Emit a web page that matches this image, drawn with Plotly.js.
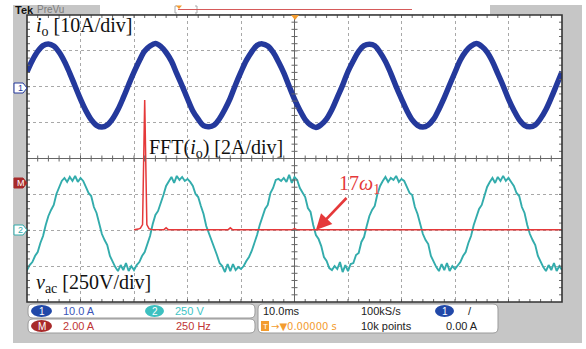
<!DOCTYPE html>
<html><head><meta charset="utf-8">
<script src="https://cdn.plot.ly/plotly-3.0.1.min.js"></script>
<style>html,body{margin:0;padding:0;background:#fff;}#chart{width:586px;height:349px;}</style>
</head><body><div id="chart"></div>
<script>
// ---------------- data ----------------
// channel 1: output current i_o [A], sampled every 1 ms starting at 0 ms
const ioStartMs = 0, ioStepMs = 1;
const ioAmps = [
 3.8, 7.0, 9.5, 11.1, 11.6, 11.0, 9.3, 6.7, 3.4, -0.2, -3.8, -7.0, -9.5, -11.1, -11.6, -11.0, -9.3, -6.7, -3.4, 0.2,
 3.7, 6.9, 9.6, 11.0, 11.7, 10.9, 9.2, 6.8, 3.3, -0.1, -3.7, -7.1, -9.4, -11.2, -11.5, -11.0, -9.2, -6.6, -3.5, 0.3,
 3.8, 7.0, 9.4, 11.2, 11.6, 11.0, 9.3, 6.6, 3.5, -0.2, -3.8, -6.9, -9.5, -11.0, -11.7, -10.9, -9.3, -6.7, -3.3, 0.1,
 3.9, 6.9, 9.5, 11.1, 11.5, 11.1, 9.2, 6.7, 3.4, -0.3, -3.7, -7.0, -9.6, -11.1, -11.6, -11.0, -9.4, -6.6, -3.4, 0.2,
 3.7, 7.1, 9.5, 11.0, 11.7, 10.9, 9.3, 6.7, 3.3, -0.1, -3.8, -6.9, -9.5, -11.1, -11.5, -11.0, -9.2, -6.7, -3.4, 0.2,
 3.8
];
// channel 2: converter voltage v_ac [V], sampled every 0.5 ms starting at -0.5 ms
const vacStartMs = -0.5, vacStepMs = 0.5;
const vacVolts = [
 -286, -314, -279, -258, -216, -188, -125, -77,
 0, 63, 105, 140, 216, 265, 307, 328, 300, 335, 307, 342, 300, 328, 307, 265, 223, 202, 125, 84,
 0, -63, -105, -140, -216, -258, -293, -321, -279, -314, -265, -321, -286, -314, -279, -258, -216, -188, -125, -77,
 7, 70, 98, 147, 209, 272, 300, 335, 293, 342, 314, 335, 307, 321, 300, 272, 216, 195, 132, 77,
 -7, -56, -112, -147, -209, -265, -286, -328, -272, -321, -272, -314, -293, -307, -286, -251, -223, -181, -132, -70,
 0, 56, 112, 140, 223, 258, 314, 321, 307, 328, 300, 349, 293, 335, 314, 258, 230, 195, 118, 91,
 0, -70, -98, -147, -223, -251, -300, -314, -286, -307, -258, -328, -279, -321, -272, -265, -209, -195, -118, -84,
 -7, 63, 105, 133, 216, 272, 307, 335, 300, 328, 314, 342, 300, 321, 307, 265, 223, 209, 125, 77,
 7, -63, -105, -133, -216, -258, -293, -321, -272, -314, -265, -321, -286, -307, -279, -258, -216, -188, -125, -77,
 0, 63, 112, 140, 209, 265, 300, 328, 293, 335, 307, 342, 307, 328, 300, 272, 223, 202, 125, 84,
 0, -63, -105, -140, -216, -258, -293, -321, -279, -314, -265, -321, -286, -314
];
// math channel: FFT(i_o) [A] against frequency [Hz]
const fftHz   = [0, 10, 20, 30, 40, 50, 60, 70, 80, 140, 150, 160, 440, 450, 460, 740, 750, 760, 840, 850, 860, 2000];
const fftAmps = [0.02, 0.03, 0.05, 0.1, 0.3, 7.25, 0.3, 0.08, 0.03, 0.02, 0.12, 0.02, 0.02, 0.12, 0.02, 0.02, 0.08, 0.02, 0.02, 0.06, 0.02, 0.02];

const labelIo  = '<i>i</i><sub>o</sub> [10A/div]';
const labelFft = 'FFT(<i>i</i><sub>o</sub>) [2A/div]';
const labelVac = '<i>v</i><sub>ac</sub> [250V/div]';
const labelHarm = '17<i>ω</i><sub>1</sub>';
const readout = {ch1:'10.0 A', ch2:'250 V', math:'2.00 A', mathHz:'250 Hz', time:'10.0ms', trig:'0.00000 s',
                 rate:'100kS/s', points:'10k points', trigLevel:'0.00 A'};

// ---------------- build ----------------
const ioT = ioAmps.map((_, i) => ioStartMs + i * ioStepMs);
const vacT = vacVolts.map((_, i) => vacStartMs + i * vacStepMs);

// pixel -> paper helpers (plot area 27..562 x 15..302)
const PL = 27, PR = 562, PT = 15, PB = 302;
const X = p => (p - PL) / (PR - PL);
const Y = p => (PB - p) / (PB - PT);

const serif = 'Liberation Serif, Times New Roman, serif';
const sans = 'Liberation Sans, Arial, sans-serif';
const BLUE = '#24399c', TEAL = '#33acac', RED = '#e5393a', GRAY = '#c6c6c6', ORANGE = '#f39c2f';

// tick marks on border and crosshair
const cx = (PL + PR) / 2, cy = (PT + PB) / 2;
const ddx = (PR - PL) / 50, ddy = (PB - PT) / 40;
let d = '';
const seg = (x0, y0, x1, y1) => { d += `M${X(x0)},${Y(y0)}L${X(x1)},${Y(y1)}`; };
for (let i = 1; i < 50; i++) {
  const x = PL + i * ddx;
  seg(x, PT, x, PT + 3); seg(x, PB, x, PB - 3); seg(x, cy - 3, x, cy + 3);
}
for (let j = 1; j < 40; j++) {
  const y = PT + j * ddy;
  seg(PL, y, PL + 3, y); seg(PR, y, PR - 3, y); seg(cx - 3, y, cx + 3, y);
}

function rrect(x0, y0, x1, y1, r) {
  const rx = r / (PR - PL), ry = r / (PB - PT);
  const a = X(x0), b = X(x1), t = Y(y0), u = Y(y1);
  return `M${a + rx},${t}L${b - rx},${t}Q${b},${t} ${b},${t - ry}L${b},${u + ry}Q${b},${u} ${b - rx},${u}` +
         `L${a + rx},${u}Q${a},${u} ${a},${u + ry}L${a},${t - ry}Q${a},${t} ${a + rx},${t}Z`;
}
function marker(y, fill, line) {
  return {type:'path', xref:'paper', yref:'paper', layer:'above',
    path:`M${X(14)},${Y(y-5)}L${X(23)},${Y(y-5)}L${X(27)},${Y(y)}L${X(23)},${Y(y+5)}L${X(14)},${Y(y+5)}Z`,
    fillcolor: fill, line:{color: line, width:1}};
}
function pill(x0, x1, y, fill) {
  return {type:'circle', xref:'paper', yref:'paper', x0:X(x0), x1:X(x1), y0:Y(y-6), y1:Y(y+6),
          fillcolor: fill, line:{width:0}, layer:'above'};
}

const shapes = [
  {type:'rect', xref:'paper', yref:'paper', x0:X(13), x1:X(582), y0:Y(343), y1:Y(5), fillcolor:GRAY, line:{width:0}, layer:'below'},
  {type:'rect', xref:'paper', yref:'paper', x0:X(PL), x1:X(PR), y0:Y(PB), y1:Y(PT), fillcolor:'#fff', line:{width:0}, layer:'below'},
  {type:'rect', xref:'paper', yref:'paper', x0:X(100), x1:X(490), y0:Y(14), y1:Y(5), fillcolor:'#fff', line:{width:0}, layer:'below'},
  {type:'path', xref:'paper', yref:'paper', path:`M${X(177)},${Y(6)}L${X(175)},${Y(6)}L${X(175)},${Y(13)}L${X(177)},${Y(13)}M${X(195)},${Y(6)}L${X(197)},${Y(6)}L${X(197)},${Y(13)}L${X(195)},${Y(13)}`, line:{color:'#aaa', width:1}},
  {type:'line', xref:'paper', yref:'paper', x0:X(178), x1:X(412), y0:Y(9.5), y1:Y(9.5), line:{color:'#d65a5a', width:1}},
  {type:'path', xref:'paper', yref:'paper', path:`M${X(176)},${Y(5.5)}L${X(182)},${Y(5.5)}L${X(179)},${Y(9)}Z`, fillcolor:ORANGE, line:{width:0}},
  {type:'path', xref:'paper', yref:'paper', path:d, line:{color:'#666', width:1}, layer:'above'},
  {type:'rect', xref:'paper', yref:'paper', x0:0, x1:1, y0:0, y1:1, line:{color:'#333', width:1.6}, layer:'above'},
  {type:'path', xref:'paper', yref:'paper', path:`M${X(291)},${Y(15)}L${X(299)},${Y(15)}L${X(295)},${Y(20)}Z`, fillcolor:ORANGE, line:{width:0}, layer:'above'},
  marker(88, '#fff', BLUE), marker(183, '#a82a2a', '#a82a2a'), marker(230, '#fff', TEAL),
  {type:'path', xref:'paper', yref:'paper', path:rrect(28, 304, 255, 318, 5), fillcolor:'#fff', line:{color:'#9a9a9a', width:1}},
  {type:'path', xref:'paper', yref:'paper', path:rrect(28, 319, 255, 333, 5), fillcolor:'#fff', line:{color:'#9a9a9a', width:1}},
  {type:'path', xref:'paper', yref:'paper', path:rrect(258, 304, 498, 333, 5), fillcolor:'#fff', line:{color:'#9a9a9a', width:1}},
  pill(31, 52, 311, '#2148a8'), pill(145, 164, 311, '#3cc0c0'), pill(31, 52, 326, '#a82a2a'), pill(435, 454, 311, '#2148a8'),
  {type:'rect', xref:'paper', yref:'paper', x0:X(261), x1:X(269), y0:Y(331), y1:Y(321), fillcolor:ORANGE, line:{width:0}, layer:'above'}
];

function txt(x, y, text, color, size, extra) {
  return Object.assign({xref:'paper', yref:'paper', x:X(x), y:Y(y), text:text, showarrow:false,
    xanchor:'left', yanchor:'middle', font:{family:sans, size:size, color:color}}, extra || {});
}
const annotations = [
  txt(34, 26, labelIo, '#111', 20, {font:{family:serif, size:20, color:'#111'}}),
  txt(147, 148, labelFft, '#111', 20, {font:{family:serif, size:20, color:'#111'}}),
  txt(34, 283, labelVac, '#111', 20, {font:{family:serif, size:20, color:'#111'}}),
  txt(13, 10, '<b>Tek</b>', '#111', 11, {font:{family:sans, size:11, color:'#111'}}),
  txt(35, 10, 'PreVu', '#7c7c7c', 10),
  txt(20.5, 88, '1', BLUE, 9, {xanchor:'center'}),
  txt(20.5, 183, 'M', '#fff', 9, {xanchor:'center'}),
  txt(20.5, 230, '2', TEAL, 9, {xanchor:'center'}),
  txt(41.5, 311, '1', '#fff', 10, {xanchor:'center'}),
  txt(154.5, 311, '2', '#fff', 10, {xanchor:'center'}),
  txt(41.5, 326, 'M', '#fff', 10, {xanchor:'center'}),
  txt(444.5, 311, '1', '#fff', 10, {xanchor:'center'}),
  txt(61, 311, readout.ch1, '#3b55b8', 11),
  txt(173, 311, readout.ch2, '#40c4c4', 11),
  txt(61, 326, readout.math, '#c03535', 11),
  txt(174, 326, readout.mathHz, '#c03535', 11),
  txt(261, 311, readout.time, '#222', 11),
  txt(359, 311, readout.rate, '#222', 11),
  txt(466, 311, '/', '#222', 11),
  txt(265, 326, 'T', '#fff', 8, {xanchor:'center', font:{family:sans, size:8, color:'#fff'}}),
  txt(269, 326, '→▼' + readout.trig, ORANGE, 11, {font:{family:'DejaVu Sans, sans-serif', size:10, color:ORANGE}}),
  txt(359, 326, readout.points, '#222', 11),
  txt(444, 326, readout.trigLevel, '#222', 11),
  {xref:'x3', yref:'y4', x:850, y:0, ax:44, ay:-46, text:labelHarm, showarrow:true,
   arrowhead:2, arrowsize:1.2, arrowwidth:2.6, arrowcolor:RED, standoff:0,
   font:{family:serif, size:20, color:RED}}
];

const traces = [
  {x:[0], y:[0], xaxis:'x', yaxis:'y', mode:'markers', marker:{opacity:0}, hoverinfo:'skip', showlegend:false},
  {x:ioT, y:ioAmps, xaxis:'x2', yaxis:'y2', mode:'lines', line:{color:BLUE, width:5.5, shape:'spline'}, showlegend:false},
  {x:vacT, y:vacVolts, xaxis:'x2', yaxis:'y3', mode:'lines', line:{color:TEAL, width:1.9}, showlegend:false},
  {x:fftHz, y:fftAmps, xaxis:'x3', yaxis:'y4', mode:'lines', line:{color:RED, width:1.5}, showlegend:false}
];

const hid = {showticklabels:false, ticks:'', showgrid:false, zeroline:false, showline:false, fixedrange:true};
const divPx = (PB - PT) / 8;
// current axis: zero at y=85.5 px, 10 A/div
const ioTop = (85.5 - PT) / divPx * 10;
// voltage axis: zero at y=225 px, 250 V/div
const vacTop = (225 - PT) / divPx * 250;
// FFT axis: zero at y=230 px, 2 A/div; 0 Hz two divisions from the left, 250 Hz/div
const fftTop = (230 - PT) / divPx * 2;

const layout = {
  width:586, height:349, margin:{l:27, r:24, t:15, b:47, pad:0},
  paper_bgcolor:'#fff', plot_bgcolor:'rgba(0,0,0,0)', showlegend:false,
  xaxis:{range:[-5,5], dtick:1, showgrid:true, gridcolor:'#a8a8a8', griddash:'dot', gridwidth:1,
         zeroline:true, zerolinecolor:'#666', zerolinewidth:1.3, showticklabels:false, ticks:'', showline:false, fixedrange:true},
  yaxis:{range:[-4,4], dtick:1, showgrid:true, gridcolor:'#a8a8a8', griddash:'dot', gridwidth:1,
         zeroline:true, zerolinecolor:'#666', zerolinewidth:1.3, showticklabels:false, ticks:'', showline:false, fixedrange:true},
  xaxis2:Object.assign({overlaying:'x', range:[0,100]}, hid),
  xaxis3:Object.assign({overlaying:'x', range:[-500,2000]}, hid),
  yaxis2:Object.assign({overlaying:'y', range:[ioTop - 80, ioTop]}, hid),
  yaxis3:Object.assign({overlaying:'y', range:[vacTop - 2000, vacTop]}, hid),
  yaxis4:Object.assign({overlaying:'y', range:[fftTop - 16, fftTop]}, hid),
  shapes:shapes, annotations:annotations
};
Plotly.newPlot('chart', traces, layout, {staticPlot:true, displayModeBar:false});
</script></body></html>
